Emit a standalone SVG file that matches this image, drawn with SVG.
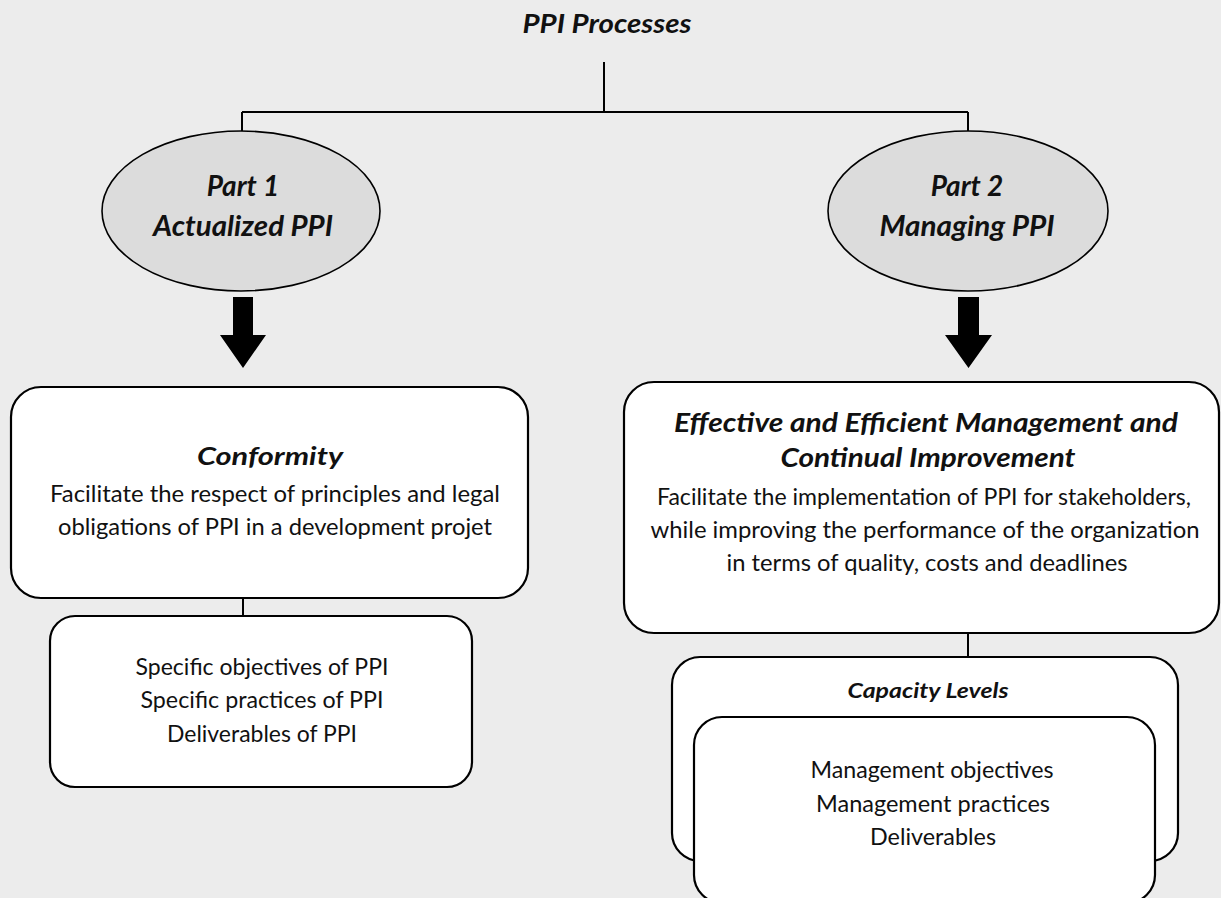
<svg xmlns="http://www.w3.org/2000/svg" width="1221" height="898" viewBox="0 0 1221 898">
  <style>
    .ttl { font-family: Lato, "Open Sans", sans-serif; font-weight: bold; font-style: italic; fill: #111; text-anchor: middle; }
    .txt { font-family: Lato, "Open Sans", sans-serif; font-weight: normal; fill: #111; text-anchor: middle; font-size: 23px; }
    .box { fill: #ffffff; stroke: #000; stroke-width: 2.2; }
    .oval { fill: #dcdcdc; stroke: #000; stroke-width: 1.6; }
    .wire { fill: none; stroke: #000; stroke-width: 2; }
    .arrow { fill: #000; stroke: none; }
  </style>
  <rect x="0" y="0" width="1221" height="898" fill="#ececec"/>

  <text class="ttl" x="607" y="33" font-size="26" textLength="169" lengthAdjust="spacingAndGlyphs">PPI Processes</text>

  <g id="connectors">
    <path class="wire" d="M604 62 V112 M242 112 H968 M242 112 V131 M968 112 V131"/>
    <path class="wire" d="M243 598 V616"/>
    <path class="wire" d="M968 633 V657"/>
    <polygon class="arrow" points="233,297 253,297 253,335 266,335 243,368 220,335 233,335"/>
    <polygon class="arrow" points="958,297 979,297 979,335 992,335 968.5,368 945,335 958,335"/>
  </g>

  <g id="part1">
    <ellipse class="oval" cx="241" cy="211" rx="139" ry="80"/>
    <text class="ttl" x="243" y="196" font-size="28">Part 1</text>
    <text class="ttl" x="243" y="236" font-size="28" textLength="180" lengthAdjust="spacingAndGlyphs">Actualized PPI</text>
  </g>

  <g id="part2">
    <ellipse class="oval" cx="968" cy="211" rx="140" ry="80"/>
    <text class="ttl" x="967" y="196" font-size="28">Part 2</text>
    <text class="ttl" x="967" y="236" font-size="28" textLength="175" lengthAdjust="spacingAndGlyphs">Managing PPI</text>
  </g>

  <g id="conformity">
    <rect class="box" x="11" y="387" width="517" height="211" rx="30" ry="30"/>
    <text class="ttl" x="270" y="465" font-size="24" textLength="146" lengthAdjust="spacingAndGlyphs">Conformity</text>
    <text class="txt" x="275" y="502" textLength="450" lengthAdjust="spacingAndGlyphs">Facilitate the respect of principles and legal</text>
    <text class="txt" x="275" y="535" textLength="434" lengthAdjust="spacingAndGlyphs">obligations of PPI in a development projet</text>
  </g>

  <g id="specific">
    <rect class="box" x="50" y="616" width="422" height="171" rx="25" ry="25"/>
    <text class="txt" x="262" y="675" textLength="253" lengthAdjust="spacingAndGlyphs">Specific objectives of PPI</text>
    <text class="txt" x="262" y="708" textLength="243" lengthAdjust="spacingAndGlyphs">Specific practices of PPI</text>
    <text class="txt" x="262" y="742" textLength="190" lengthAdjust="spacingAndGlyphs">Deliverables of PPI</text>
  </g>

  <g id="management">
    <rect class="box" x="624" y="382" width="595" height="251" rx="30" ry="30"/>
    <text class="ttl" x="926" y="432" font-size="26" textLength="504" lengthAdjust="spacingAndGlyphs">Effective and Efficient Management and</text>
    <text class="ttl" x="928" y="467" font-size="26" textLength="295" lengthAdjust="spacingAndGlyphs">Continual Improvement</text>
    <text class="txt" x="924" y="505" textLength="534" lengthAdjust="spacingAndGlyphs">Facilitate the implementation of PPI for stakeholders,</text>
    <text class="txt" x="925" y="538" textLength="549" lengthAdjust="spacingAndGlyphs">while improving the performance of the organization</text>
    <text class="txt" x="927" y="571" textLength="401" lengthAdjust="spacingAndGlyphs">in terms of quality, costs and deadlines</text>
  </g>

  <g id="capacity-levels">
    <rect class="box" x="672" y="657" width="506" height="204" rx="28" ry="28"/>
    <text class="ttl" x="928" y="698" font-size="21" textLength="161" lengthAdjust="spacingAndGlyphs">Capacity Levels</text>
  </g>

  <g id="management-items">
    <rect class="box" x="694" y="717" width="461" height="186" rx="28" ry="28"/>
    <text class="txt" x="932" y="778" textLength="243" lengthAdjust="spacingAndGlyphs">Management objectives</text>
    <text class="txt" x="933" y="812" textLength="234" lengthAdjust="spacingAndGlyphs">Management practices</text>
    <text class="txt" x="933" y="845" textLength="126" lengthAdjust="spacingAndGlyphs">Deliverables</text>
  </g>
</svg>
